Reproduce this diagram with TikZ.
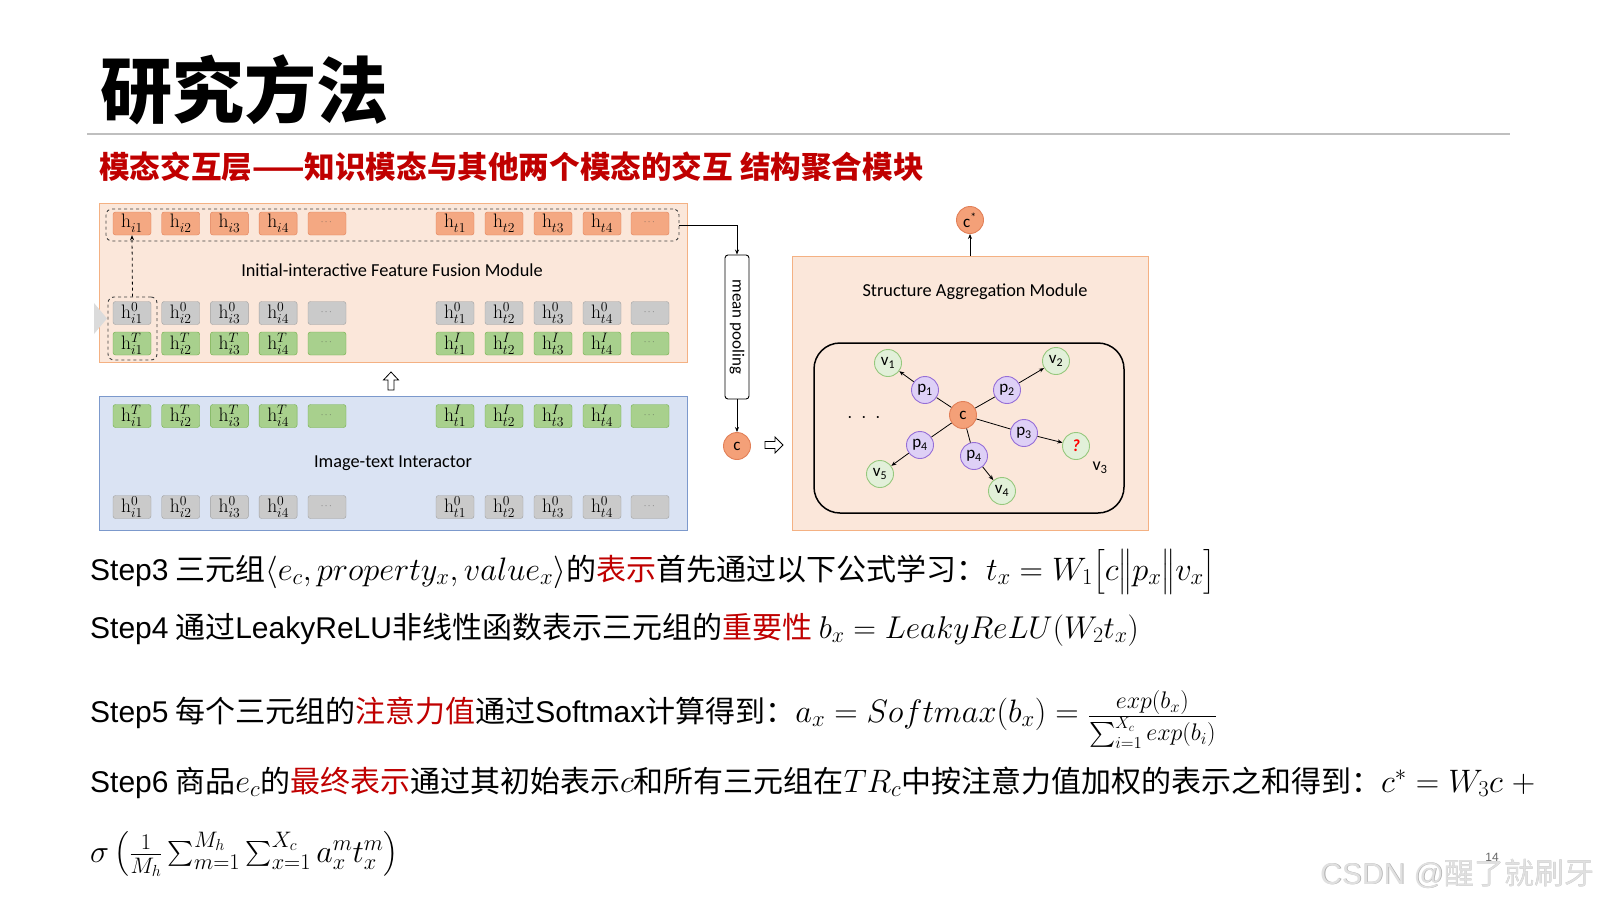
\RequirePackage{fix-cm}
\documentclass[tikz,border=0pt]{standalone}
\usepackage{amsmath}
\usepackage[no-math]{fontspec}
\setmainfont{Noto Sans CJK SC}
\newfontfamily\lat{Liberation Sans}
\newfontfamily\carl{Carlito}
\usetikzlibrary{arrows.meta}
\definecolor{peach}{RGB}{251,231,218}
\definecolor{peachd}{RGB}{244,177,131}
\definecolor{bluef}{RGB}{218,227,243}
\definecolor{blued}{RGB}{124,153,204}
\definecolor{oboxf}{RGB}{244,168,130}
\definecolor{oboxd}{RGB}{226,128,88}
\definecolor{gboxf}{RGB}{202,202,202}
\definecolor{gboxd}{RGB}{160,160,160}
\definecolor{grboxf}{RGB}{168,208,141}
\definecolor{grboxd}{RGB}{112,173,71}
\definecolor{pf}{RGB}{222,208,246}
\definecolor{pd}{RGB}{150,110,215}
\definecolor{vf}{RGB}{226,240,217}
\definecolor{vd}{RGB}{150,200,125}
\definecolor{cf}{RGB}{244,160,120}
\definecolor{cd}{RGB}{226,128,88}
\definecolor{hred}{RGB}{192,0,0}
\newcommand{\hdt}{\raisebox{2pt}{\fontsize{9}{9}\selectfont\color{black!70}$\cdots$}}
\newcommand{\mm}[1]{{\fontsize{32.5}{36}\selectfont$#1$}}
\newcommand{\hrow}[5]{%
  \foreach \k in {1,2,3,4}{%
    \node[#2] (#5i\k) at ({132+48.7*(\k-1)},#1) {$\mathrm{h}^{#3}_{i\k}$};
    \node[#2] (#5t\k) at ({455+49*(\k-1)},#1) {$\mathrm{h}^{#4}_{t\k}$};
  }
  \node[#2] (#5i5) at (327,#1) {\hdt};
  \node[#2] (#5t5) at (650,#1) {\hdt};
}
\begin{document}
\begin{tikzpicture}[x=1pt,y=-1pt,
  hb/.style={rounded corners=2.5pt, minimum width=38pt, minimum height=23pt, inner sep=0pt, font=\fontsize{19.5}{19.5}\selectfont},
  ob/.style={hb, fill=oboxf, draw=oboxd},
  gb/.style={hb, fill=gboxf, draw=gboxd},
  grb/.style={hb, fill=grboxf, draw=grboxd},
  modo/.style={draw=peachd, fill=peach, line width=1pt, inner sep=0pt},
  modb/.style={draw=blued, fill=bluef, line width=1pt, inner sep=0pt},
  dbox/.style={draw=black!75, dashed, rounded corners=6pt, line width=0.9pt, inner sep=0pt},
  arr/.style={-{Stealth[length=5pt,width=4pt]}, line width=0.8pt},
  lbl/.style={font=\carl\fontsize{18.3}{20}\selectfont},
  circ/.style={circle, minimum size=27pt, inner sep=0pt, line width=0.9pt, font=\carl\fontsize{17}{17}\selectfont},
  cn/.style={circ, fill=cf, draw=cd},
  pn/.style={circ, fill=pf, draw=pd},
  vn/.style={circ, fill=vf, draw=vd},
  stepline/.style={anchor=base west, inner sep=0pt, font=\fontsize{30}{36}\selectfont}
]
\path[use as bounding box, fill=white] (0,0) rectangle (1600,900);

% title
\node[anchor=base west, inner sep=0pt, font=\bfseries\fontsize{72}{80}\selectfont] (title) at (100,117) {研究方法};
\draw[line width=2pt, black!25] (87,134) -- (1510,134);
\node[anchor=base west, inner sep=0pt, text=hred, font=\bfseries\fontsize{30.6}{34}\selectfont] (sub) at (99,178) {模态交互层——知识模态与其他两个模态的交互 结构聚合模块};

% left modules
\node[modo, minimum width=588pt, minimum height=159pt] (iff) at (393,282.5) {};
\node[modb, minimum width=588pt, minimum height=134pt] (iti) at (393,463) {};
\node[lbl] (ifflab) at (392,270) {Initial-interactive Feature Fusion Module};
\node[lbl] (itilab) at (393,463) {Image-text Interactor};

\node[dbox, minimum width=573pt, minimum height=32pt] (topdash) at (392.5,225) {};
\hrow{223.5}{ob}{}{}{o}
\hrow{313}{gb}{0}{0}{g}
\hrow{343.5}{grb}{T}{I}{n}
\hrow{416}{grb}{T}{I}{bn}
\hrow{507}{gb}{0}{0}{bg}
\node[dbox, minimum width=49pt, minimum height=63pt] (ldash) at (132.5,328.5) {};
\draw[arr, dashed] (ldash.north) -- (oi1.south);
\fill[black!14] (94,303) -- (107,318.5) -- (94,334) -- cycle;

% hollow up arrow
\draw[line width=0.8pt, fill=white] (391,372) -- (398.5,380) -- (394,380) -- (394,390) -- (388,390) -- (388,380) -- (383.5,380) -- cycle;

% mean pooling
\node[draw, fill=white, rounded corners=3pt, rotate=-90, minimum width=144pt, minimum height=24pt, inner sep=0pt, line width=0.9pt, font=\carl\fontsize{17}{17}\selectfont] (mp) at (737,327) {mean pooling};
\draw[arr] (topdash.east) -| (mp.west);
\node[cn] (cl) at (737,446) {c};
\draw[arr] (mp.east) -- (cl.north);
% hollow right arrow
\draw[line width=0.8pt, fill=white] (765,441.5) -- (775,441.5) -- (775,437) -- (783,445) -- (775,453) -- (775,448.5) -- (765,448.5) -- cycle;

% structure aggregation module
\node[modo, minimum width=356pt, minimum height=274pt] (sam) at (970,393) {};
\node[lbl] (samlab) at (975,292) {Structure Aggregation Module};
\node[cn] (cstar) at (970,220) {c\textsuperscript{*}};
\draw[arr] (sam.north) -- (cstar.south);
\node[draw, rounded corners=26pt, line width=1.5pt, minimum width=310pt, minimum height=170pt, inner sep=0pt] (graph) at (969,428) {};

\node[cn] (c) at (963,415) {c};
\node[pn] (p1) at (925,390) {p\textsubscript{1}};
\node[pn] (p2) at (1007,390) {p\textsubscript{2}};
\node[pn] (p3) at (1024,433) {p\textsubscript{3}};
\node[pn] (p4a) at (920,445) {p\textsubscript{4}};
\node[pn] (p4b) at (974,456) {p\textsubscript{4}};
\node[vn] (v1) at (888,363) {v\textsubscript{1}};
\node[vn] (v2) at (1056,361) {v\textsubscript{2}};
\node[vn] (v3) at (1076,446) {\textcolor{red}{\bfseries\itshape ?}};
\node[vn] (v4) at (1002,491) {v\textsubscript{4}};
\node[vn] (v5) at (880,474) {v\textsubscript{5}};
\node[font=\carl\fontsize{18}{18}\selectfont] (v3lab) at (1100,468) {v\textsubscript{3}};
\node[font=\fontsize{20}{20}\selectfont] (dots) at (864,418) {$\cdot\hspace{4pt}\cdot\hspace{4pt}\cdot$};
\draw[line width=0.8pt] (c) -- (p1);
\draw[line width=0.8pt] (c) -- (p2);
\draw[line width=0.8pt] (c) -- (p3);
\draw[line width=0.8pt] (c) -- (p4a);
\draw[line width=0.8pt] (c) -- (p4b);
\draw[arr] (p1) -- (v1);
\draw[arr] (p2) -- (v2);
\draw[arr] (p3) -- (v3);
\draw[arr] (p4a) -- (v5);
\draw[arr] (p4b) -- (v4);

% steps
\node[stepline] (s3) at (90,580) {{\lat Step3} 三元组\mm{\langle e_c, property_x, value_x\rangle}的\textcolor{hred}{表示}首先通过以下公式学习：\mm{t_x = W_1\bigl[c\big\|p_x\big\|v_x\bigr]}};
\node[stepline] (s4) at (90,638) {{\lat Step4} 通过{\lat LeakyReLU}非线性函数表示三元组的\textcolor{hred}{重要性} {\fontsize{31.5}{36}\selectfont$b_x = LeakyReLU(W_2t_x)$}};
\node[stepline] (s5) at (90,722) {{\lat Step5} 每个三元组的\textcolor{hred}{注意力值}通过{\lat Softmax}计算得到：\mm{a_x = Softmax(b_x) = {}}{\fontsize{24}{26}\selectfont$\frac{\textstyle exp(b_x)}{\textstyle \sum_{i=1}^{X_c} exp(b_i)}$}};
\node[stepline] (s6) at (90,792) {{\lat Step6} 商品\mm{e_c}的\textcolor{hred}{最终表示}通过其初始表示\mm{c}和所有三元组在\mm{TR_c}中按注意力值加权的表示之和得到：\mm{c^* = W_3c\;+}};
\node[stepline] (s7) at (90,862) {{\fontsize{32}{36}\selectfont$\sigma\left(\frac{1}{M_h}\sum_{m=1}^{M_h}\sum_{x=1}^{X_c} a_x^m t_x^m\right)$}};

% footer
\node[font=\lat\fontsize{12}{12}\selectfont, text=black!60] (pg) at (1492,857) {14};
\node[anchor=base west, inner sep=0pt, text=black!32, font=\fontsize{30}{30}\selectfont] (wm2) at (1320.8,884.8) {{\lat CSDN @}醒了就刷牙};
\node[anchor=base west, inner sep=0pt, text=black!12, font=\fontsize{30}{30}\selectfont] (wm) at (1320,884) {{\lat CSDN @}醒了就刷牙};
\end{tikzpicture}
\end{document}
